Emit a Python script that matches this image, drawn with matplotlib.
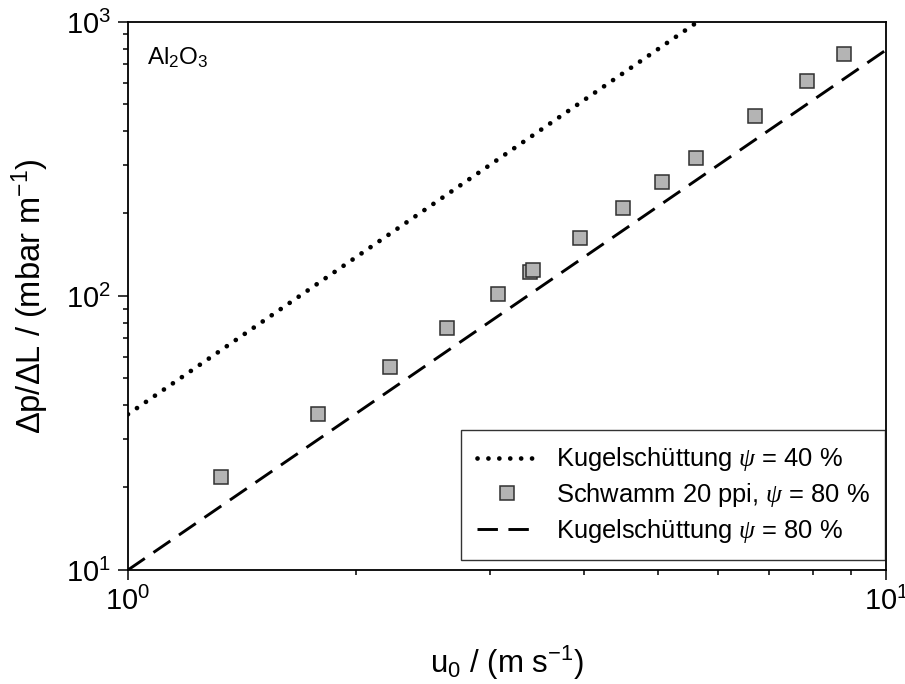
import numpy as np
import matplotlib
matplotlib.use('Agg')
import matplotlib.pyplot as plt
from matplotlib.ticker import NullFormatter

plt.rcParams['font.family'] = ['Liberation Sans', 'DejaVu Sans']
plt.rcParams['mathtext.fontset'] = 'custom'
plt.rcParams['mathtext.rm'] = 'Liberation Sans'
plt.rcParams['mathtext.it'] = 'Liberation Serif:italic'
plt.rcParams['mathtext.default'] = 'regular'

# Measured pressure drop, Al2O3 sponge 20 ppi
u0 = [1.327, 1.781, 2.214, 2.638, 3.080, 3.394, 3.425, 3.944,
      4.501, 5.070, 5.614, 6.724, 7.862, 8.795]
dp = [21.8, 37.1, 54.9, 76.2, 101.7, 122.0, 124.4, 162.4,
      208.9, 261.4, 319.7, 452.7, 610.7, 764.1]

# Packed bed reference lines (end points, straight in log-log)
bed40_u = [1.0, 5.64]
bed40_dp = [37.0, 1000.0]
bed80_u = [1.0, 10.0]
bed80_dp = [10.0, 790.0]

fig = plt.figure(figsize=(9.05, 6.84), dpi=100)
ax = fig.add_axes([0.1414, 0.1667, 0.8376, 0.8012])

psi = r'$\mathit{\psi}$'
ax.plot(bed40_u, bed40_dp, color='black', lw=3.4,
        linestyle=(0, (0.01, 2.3)), dash_capstyle='round',
        label='Kugelschüttung ' + psi + ' = 40 %')
ax.plot(u0, dp, linestyle='none', marker='s', markersize=9.5,
        markerfacecolor='#b4b4b4', markeredgecolor='#303030',
        markeredgewidth=1.1, label='Schwamm 20 ppi, ' + psi + ' = 80 %')
ax.plot(bed80_u, bed80_dp, color='black', lw=2.1,
        linestyle=(0, (7, 3.6)), label='Kugelschüttung ' + psi + ' = 80 %')

ax.set_xscale('log')
ax.set_yscale('log')
ax.set_xlim(1, 10)
ax.set_ylim(10, 1000)
ax.xaxis.set_minor_formatter(NullFormatter())
ax.yaxis.set_minor_formatter(NullFormatter())

for side in ['top', 'right', 'left', 'bottom']:
    ax.spines[side].set_linewidth(1.3)
ax.tick_params(which='both', direction='out', top=False, right=False,
               labelsize=21, width=1.1)
ax.tick_params(which='major', length=7, pad=5)
ax.tick_params(which='minor', length=3.5)

ax.set_xlabel(r'u$_0$ / (m s$^{-1}$)', fontsize=22.5, labelpad=20)
ax.set_ylabel(r'$\Delta$p/$\Delta$L / (mbar m$^{-1}$)', fontsize=23.5,
              labelpad=11)

ax.text(0.025, 0.935, r'Al$_2$O$_3$', transform=ax.transAxes,
        fontsize=17.5, va='center', ha='left')

leg = ax.legend(loc='lower right', bbox_to_anchor=(0.999, 0.018),
                fontsize=18.4, frameon=True, fancybox=False,
                borderaxespad=0, handlelength=2.37, handletextpad=0.74,
                labelspacing=0.3, borderpad=0.6)
leg.get_frame().set_edgecolor('black')
leg.get_frame().set_linewidth(1.0)

fig.savefig('out.png', dpi=100)
